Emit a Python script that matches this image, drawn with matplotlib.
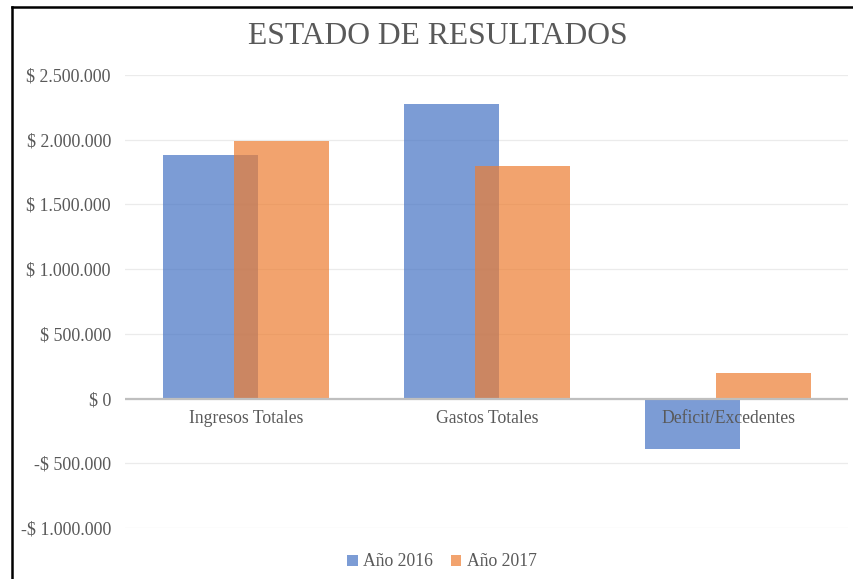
import matplotlib
matplotlib.use("Agg")
import matplotlib.pyplot as plt
from matplotlib.lines import Line2D
from matplotlib.patches import Patch
from matplotlib.ticker import FuncFormatter
import numpy as np

# ---- data ----
categories = ["Ingresos Totales", "Gastos Totales", "Deficit/Excedentes"]
series_names = ["Año 2016", "Año 2017"]
values_2016 = [1882000, 2275000, -393000]
values_2017 = [1990000, 1794000, 196000]
y_ticks = [-1000000, -500000, 0, 500000, 1000000, 1500000, 2000000, 2500000]
title = "ESTADO DE RESULTADOS"

# ---- style ----
plt.rcParams['font.family'] = ['Liberation Serif', 'DejaVu Serif']
TXT = '#595959'
BLUE = '#4472C4'
ORANGE = '#ED7D31'

W, H = 854, 579
fig = plt.figure(figsize=(W / 100, H / 100), dpi=100)
ax = fig.add_axes([125.5 / W, 1 - 528 / H, (848.5 - 125.5) / W, (528 - 75) / H])

x = np.arange(len(categories))
bw = 0.394
off = 0.1475
ax.bar(x - off, values_2016, width=bw, color=BLUE, alpha=0.7, zorder=2, linewidth=0)
ax.bar(x + off, values_2017, width=bw, color=ORANGE, alpha=0.7, zorder=3, linewidth=0)

ax.set_xlim(-0.5, 2.5)
ax.set_ylim(-1000000, 2500000)
ax.set_yticks(y_ticks)


def fmt(v, pos):
    s = f"{abs(int(v)):,}".replace(",", ".")
    return ("-$ " if v < 0 else "$ ") + s


ax.yaxis.set_major_formatter(FuncFormatter(fmt))
ax.tick_params(axis='y', length=0, pad=10.5, labelsize=12.9, labelcolor=TXT)
ax.set_xticks([])
for sp in ax.spines.values():
    sp.set_visible(False)
ax.grid(axis='y', color='#EBEBEB', linewidth=0.9, zorder=0)
ax.axhline(0, color='#BFBFBF', linewidth=1.6, zorder=4)

for i, c in enumerate(categories):
    ax.annotate(c, xy=(i, 0), xytext=(0, -14.5), textcoords='offset points',
                ha='center', va='center', fontsize=12.7, color=TXT, zorder=5)

fig.text(437.5 / W, 1 - 36 / H, title, ha='center', va='center', fontsize=22.8, color=TXT)

handles = [Patch(facecolor=BLUE, alpha=0.7, edgecolor='none'),
           Patch(facecolor=ORANGE, alpha=0.7, edgecolor='none')]
leg = fig.legend(handles, series_names, loc='center', bbox_to_anchor=(442 / W, 1 - 562 / H),
                 ncol=2, frameon=False, fontsize=12.7, handlelength=0.6, handleheight=0.6,
                 handletextpad=0.3, columnspacing=1.0)
for t in leg.get_texts():
    t.set_color(TXT)

# frame lines (left and top)
fig.add_artist(Line2D([12.5 / W, 12.5 / W], [0, 1 - 6.5 / H], color='black', linewidth=1.8,
                      transform=fig.transFigure))
fig.add_artist(Line2D([12.5 / W, 1], [1 - 6.5 / H, 1 - 6.5 / H], color='black', linewidth=1.8,
                      transform=fig.transFigure))

fig.savefig("out.png", dpi=100, facecolor='white')
